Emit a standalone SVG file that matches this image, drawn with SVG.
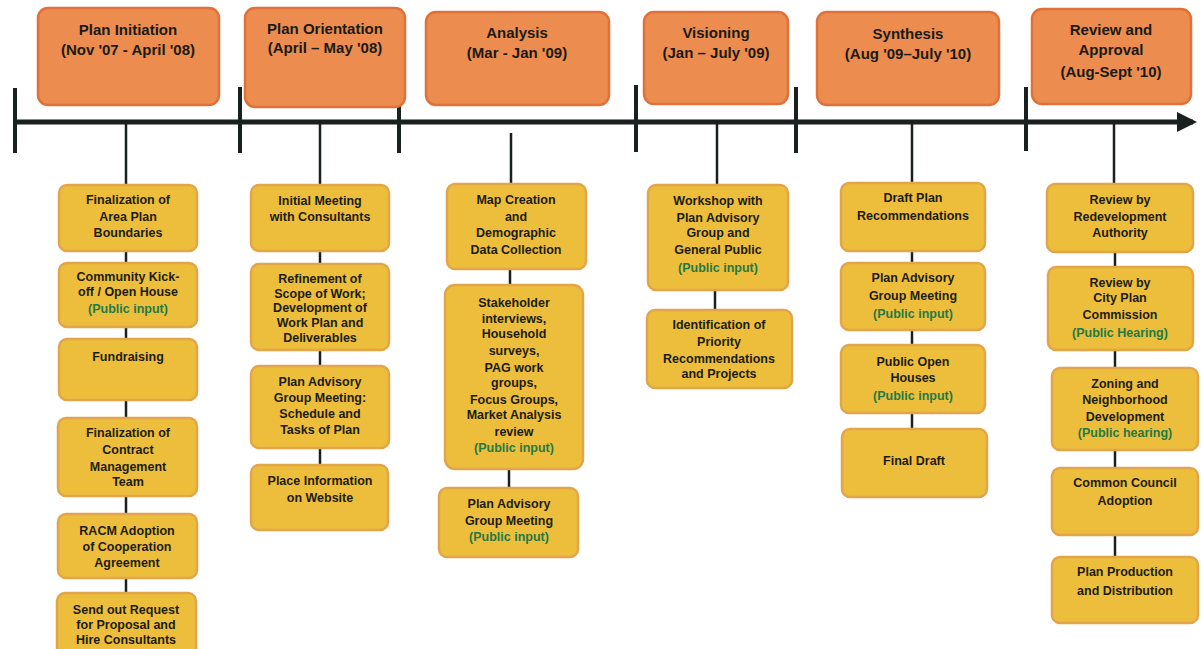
<svg xmlns="http://www.w3.org/2000/svg" width="1201" height="649" viewBox="0 0 1201 649">
<defs>
<style>
.hdr{fill:#EC8C4F;stroke:#E0713A;stroke-width:2.5}
.box{fill:#EDBE3C;stroke:#E3A54A;stroke-width:2.5}
.ht{font-family:"Liberation Sans",Arial,sans-serif;font-weight:bold;font-size:15px;fill:#1a1a14;text-anchor:middle}
.bt{font-family:"Liberation Sans",Arial,sans-serif;font-weight:bold;font-size:12.5px;fill:#1c1c10;text-anchor:middle}
.gt{fill:#1F7A45}
.tl{stroke:#1a1f1f;stroke-width:5;fill:none}
.tk{stroke:#1a1f1f;stroke-width:4;fill:none}
.cn{stroke:#1a1f1f;stroke-width:2.5;fill:none}
</style>
<marker id="arr" markerWidth="4" markerHeight="4" refX="3.2" refY="2" orient="auto" markerUnits="strokeWidth">
<path d="M0,0 L4,2 L0,4 Z" fill="#1a1f1f"/>
</marker>
</defs>
<rect width="1201" height="649" fill="#ffffff"/>

<g id="connectors">
<line class="tl" x1="15" y1="122" x2="1193" y2="122" marker-end="url(#arr)"/>
<line class="tk" x1="15" y1="88" x2="15" y2="153"/>
<line class="tk" x1="240" y1="87" x2="240" y2="153"/>
<line class="tk" x1="399" y1="103" x2="399" y2="153"/>
<line class="tk" x1="636" y1="85" x2="636" y2="152"/>
<line class="tk" x1="796" y1="87" x2="796" y2="153"/>
<line class="tk" x1="1026" y1="87" x2="1026" y2="151"/>
<line class="cn" x1="126" y1="124" x2="126" y2="185"/>
<line class="cn" x1="126" y1="251" x2="126" y2="263"/>
<line class="cn" x1="126" y1="327" x2="126" y2="339"/>
<line class="cn" x1="126" y1="400" x2="126" y2="418"/>
<line class="cn" x1="126" y1="496" x2="126" y2="514"/>
<line class="cn" x1="126" y1="578" x2="126" y2="593"/>
<line class="cn" x1="320" y1="124" x2="320" y2="185"/>
<line class="cn" x1="320" y1="251" x2="320" y2="264"/>
<line class="cn" x1="320" y1="350" x2="320" y2="366"/>
<line class="cn" x1="320" y1="448" x2="320" y2="465"/>
<line class="cn" x1="511" y1="133" x2="511" y2="184"/>
<line class="cn" x1="510" y1="269" x2="510" y2="285"/>
<line class="cn" x1="509" y1="469" x2="509" y2="488"/>
<line class="cn" x1="717" y1="124" x2="717" y2="185"/>
<line class="cn" x1="715" y1="290" x2="715" y2="310"/>
<line class="cn" x1="912" y1="124" x2="912" y2="183"/>
<line class="cn" x1="912" y1="251" x2="912" y2="263"/>
<line class="cn" x1="912" y1="330" x2="912" y2="345"/>
<line class="cn" x1="912" y1="413" x2="912" y2="429"/>
<line class="cn" x1="1114" y1="124" x2="1114" y2="184"/>
<line class="cn" x1="1115" y1="252" x2="1115" y2="267"/>
<line class="cn" x1="1115" y1="350" x2="1115" y2="368"/>
<line class="cn" x1="1115" y1="450" x2="1115" y2="468"/>
<line class="cn" x1="1115" y1="535" x2="1115" y2="557"/>
</g>

<g id="h1"><rect class="hdr" x="38" y="8" width="181" height="97" rx="10"/>
<text class="ht" x="128" y="35">Plan Initiation</text><text class="ht" x="128" y="55">(Nov '07 - April '08)</text></g>
<g id="h2"><rect class="hdr" x="245" y="8" width="160" height="99" rx="10"/>
<text class="ht" x="325" y="34">Plan Orientation</text><text class="ht" x="325" y="53">(April – May '08)</text></g>
<g id="h3"><rect class="hdr" x="426" y="12" width="183" height="93" rx="10"/>
<text class="ht" x="517" y="38">Analysis</text><text class="ht" x="517" y="58">(Mar - Jan '09)</text></g>
<g id="h4"><rect class="hdr" x="644" y="12" width="144" height="92" rx="10"/>
<text class="ht" x="716" y="38">Visioning</text><text class="ht" x="716" y="58">(Jan – July '09)</text></g>
<g id="h5"><rect class="hdr" x="817" y="12" width="182" height="93" rx="10"/>
<text class="ht" x="908" y="39">Synthesis</text><text class="ht" x="908" y="59">(Aug '09–July '10)</text></g>
<g id="h6"><rect class="hdr" x="1032" y="9" width="159" height="95" rx="10"/>
<text class="ht" x="1111" y="35">Review and</text><text class="ht" x="1111" y="55">Approval</text><text class="ht" x="1111" y="77">(Aug-Sept '10)</text></g>

<g id="c1b1"><rect class="box" x="59" y="185" width="138" height="66" rx="8"/>
<text class="bt" x="128" y="204">Finalization of</text><text class="bt" x="128" y="221">Area Plan</text><text class="bt" x="128" y="237">Boundaries</text></g>
<g id="c1b2"><rect class="box" x="59" y="263" width="138" height="64" rx="8"/>
<text class="bt" x="128" y="281">Community Kick-</text><text class="bt" x="128" y="296">off / Open House</text><text class="bt gt" x="128" y="313">(Public input)</text></g>
<g id="c1b3"><rect class="box" x="59" y="339" width="138" height="61" rx="8"/>
<text class="bt" x="128" y="361">Fundraising</text></g>
<g id="c1b4"><rect class="box" x="58" y="418" width="139" height="78" rx="8"/>
<text class="bt" x="128" y="437">Finalization of</text><text class="bt" x="128" y="454">Contract</text><text class="bt" x="128" y="471">Management</text><text class="bt" x="128" y="486">Team</text></g>
<g id="c1b5"><rect class="box" x="58" y="514" width="139" height="64" rx="8"/>
<text class="bt" x="127" y="535">RACM Adoption</text><text class="bt" x="127" y="551">of Cooperation</text><text class="bt" x="127" y="567">Agreement</text></g>
<g id="c1b6"><rect class="box" x="57" y="593" width="139" height="70" rx="8"/>
<text class="bt" x="126" y="614">Send out Request</text><text class="bt" x="126" y="629">for Proposal and</text><text class="bt" x="126" y="644">Hire Consultants</text></g>

<g id="c2b1"><rect class="box" x="251" y="185" width="138" height="66" rx="8"/>
<text class="bt" x="320" y="205">Initial Meeting</text><text class="bt" x="320" y="221">with Consultants</text></g>
<g id="c2b2"><rect class="box" x="251" y="264" width="138" height="86" rx="8"/>
<text class="bt" x="320" y="283">Refinement of</text><text class="bt" x="320" y="298">Scope of Work;</text><text class="bt" x="320" y="312">Development of</text><text class="bt" x="320" y="327">Work Plan and</text><text class="bt" x="320" y="342">Deliverables</text></g>
<g id="c2b3"><rect class="box" x="251" y="366" width="138" height="82" rx="8"/>
<text class="bt" x="320" y="386">Plan Advisory</text><text class="bt" x="320" y="402">Group Meeting:</text><text class="bt" x="320" y="418">Schedule and</text><text class="bt" x="320" y="434">Tasks of Plan</text></g>
<g id="c2b4"><rect class="box" x="251" y="465" width="137" height="65" rx="8"/>
<text class="bt" x="320" y="485">Place Information</text><text class="bt" x="320" y="502">on Website</text></g>

<g id="c3b1"><rect class="box" x="447" y="184" width="139" height="85" rx="8"/>
<text class="bt" x="516" y="204">Map Creation</text><text class="bt" x="516" y="221">and</text><text class="bt" x="516" y="237">Demographic</text><text class="bt" x="516" y="254">Data Collection</text></g>
<g id="c3b2"><rect class="box" x="445" y="285" width="138" height="184" rx="10"/>
<text class="bt" x="514" y="307">Stakeholder</text><text class="bt" x="514" y="323">interviews,</text><text class="bt" x="514" y="338">Household</text><text class="bt" x="514" y="355">surveys,</text><text class="bt" x="514" y="372">PAG work</text><text class="bt" x="514" y="387">groups,</text><text class="bt" x="514" y="404">Focus Groups,</text><text class="bt" x="514" y="419">Market Analysis</text><text class="bt" x="514" y="436">review</text><text class="bt gt" x="514" y="452">(Public input)</text></g>
<g id="c3b3"><rect class="box" x="439" y="488" width="139" height="69" rx="8"/>
<text class="bt" x="509" y="508">Plan Advisory</text><text class="bt" x="509" y="525">Group Meeting</text><text class="bt gt" x="509" y="541">(Public input)</text></g>

<g id="c4b1"><rect class="box" x="648" y="185" width="140" height="105" rx="8"/>
<text class="bt" x="718" y="205">Workshop with</text><text class="bt" x="718" y="222">Plan Advisory</text><text class="bt" x="718" y="237">Group and</text><text class="bt" x="718" y="254">General Public</text><text class="bt gt" x="718" y="272">(Public input)</text></g>
<g id="c4b2"><rect class="box" x="647" y="310" width="145" height="78" rx="8"/>
<text class="bt" x="719" y="329">Identification of</text><text class="bt" x="719" y="346">Priority</text><text class="bt" x="719" y="363">Recommendations</text><text class="bt" x="719" y="378">and Projects</text></g>

<g id="c5b1"><rect class="box" x="841" y="183" width="144" height="68" rx="8"/>
<text class="bt" x="913" y="202">Draft Plan</text><text class="bt" x="913" y="220">Recommendations</text></g>
<g id="c5b2"><rect class="box" x="841" y="263" width="144" height="67" rx="8"/>
<text class="bt" x="913" y="282">Plan Advisory</text><text class="bt" x="913" y="300">Group Meeting</text><text class="bt gt" x="913" y="318">(Public input)</text></g>
<g id="c5b3"><rect class="box" x="841" y="345" width="144" height="68" rx="8"/>
<text class="bt" x="913" y="366">Public Open</text><text class="bt" x="913" y="382">Houses</text><text class="bt gt" x="913" y="400">(Public input)</text></g>
<g id="c5b4"><rect class="box" x="842" y="429" width="145" height="68" rx="8"/>
<text class="bt" x="914" y="465">Final Draft</text></g>

<g id="c6b1"><rect class="box" x="1047" y="184" width="146" height="68" rx="8"/>
<text class="bt" x="1120" y="204">Review by</text><text class="bt" x="1120" y="221">Redevelopment</text><text class="bt" x="1120" y="237">Authority</text></g>
<g id="c6b2"><rect class="box" x="1048" y="267" width="145" height="83" rx="8"/>
<text class="bt" x="1120" y="287">Review by</text><text class="bt" x="1120" y="302">City Plan</text><text class="bt" x="1120" y="319">Commission</text><text class="bt gt" x="1120" y="337">(Public Hearing)</text></g>
<g id="c6b3"><rect class="box" x="1052" y="368" width="146" height="82" rx="8"/>
<text class="bt" x="1125" y="388">Zoning and</text><text class="bt" x="1125" y="404">Neighborhood</text><text class="bt" x="1125" y="421">Development</text><text class="bt gt" x="1125" y="437">(Public hearing)</text></g>
<g id="c6b4"><rect class="box" x="1052" y="468" width="146" height="67" rx="8"/>
<text class="bt" x="1125" y="487">Common Council</text><text class="bt" x="1125" y="505">Adoption</text></g>
<g id="c6b5"><rect class="box" x="1052" y="557" width="146" height="66" rx="8"/>
<text class="bt" x="1125" y="576">Plan Production</text><text class="bt" x="1125" y="595">and Distribution</text></g>
</svg>
